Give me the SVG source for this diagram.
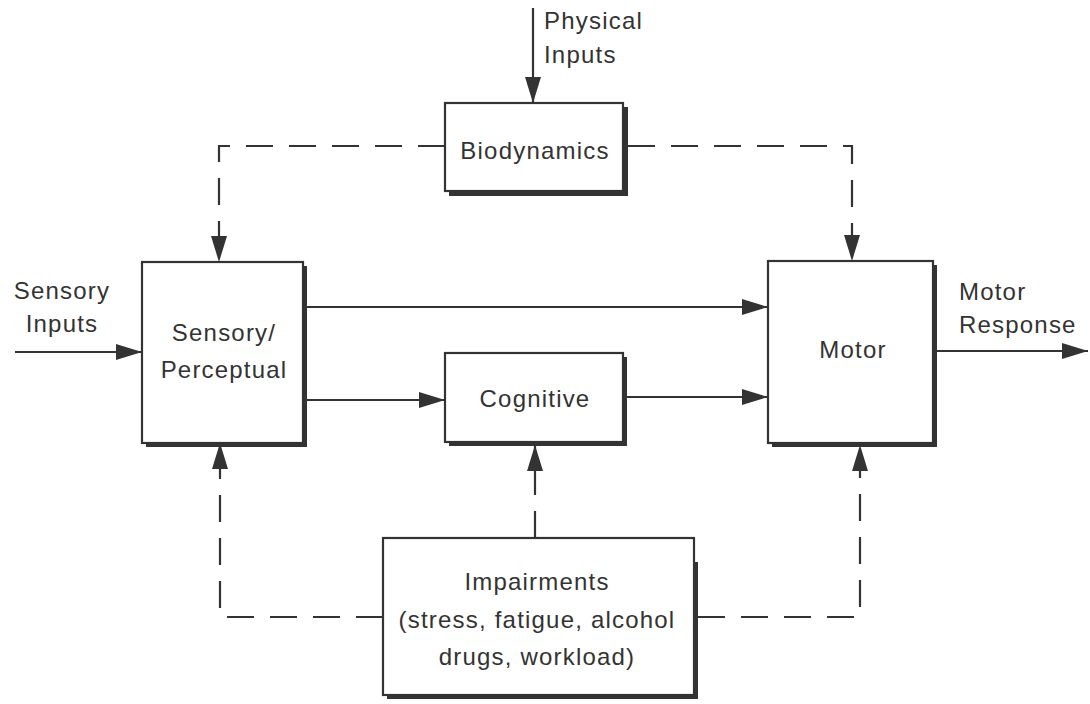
<svg xmlns="http://www.w3.org/2000/svg" width="1090" height="704" viewBox="0 0 1090 704">
<defs>
<marker id="ah" markerUnits="userSpaceOnUse" markerWidth="28" markerHeight="18" refX="26" refY="8" orient="auto">
<path d="M0,0 L26,8 L0,16 Z" fill="#333"/>
</marker>
<style>
.box{fill:#fff;stroke:#333;stroke-width:2.2}
.sh{fill:#333}
.t{font-family:"Liberation Sans",Arial,sans-serif;font-size:24px;letter-spacing:1.2px;fill:#333}
.m{text-anchor:middle}
.sl{fill:none;stroke:#333;stroke-width:2.2}
.da{fill:none;stroke:#333;stroke-width:2.2;stroke-dasharray:27,16}
</style>
</defs>
<rect width="1090" height="704" fill="#fff"/>
<g id="connectors">
<line class="sl" x1="533" y1="8" x2="533" y2="103" marker-end="url(#ah)"/>
<line class="sl" x1="15" y1="352" x2="142" y2="352" marker-end="url(#ah)"/>
<line class="sl" x1="307" y1="307" x2="768" y2="307" marker-end="url(#ah)"/>
<line class="sl" x1="307" y1="400" x2="445" y2="400" marker-end="url(#ah)"/>
<line class="sl" x1="627" y1="397" x2="768" y2="397" marker-end="url(#ah)"/>
<line class="sl" x1="937" y1="351" x2="1088" y2="351" marker-end="url(#ah)"/>
<path class="da" d="M445,146 H219 V262" marker-end="url(#ah)"/>
<path class="da" d="M628,146 H852 V261" marker-end="url(#ah)"/>
<path class="da" d="M383,617 H220 V443" marker-end="url(#ah)"/>
<path class="da" d="M698,617 H860 V445" marker-end="url(#ah)"/>
<path class="da" d="M535,538 V445" marker-end="url(#ah)"/>
</g>
<g id="biodynamics">
<rect class="sh" x="449" y="107" width="179" height="89"/>
<rect class="box" x="445" y="103" width="178" height="88"/>
<text class="t m" x="535" y="159">Biodynamics</text>
</g>
<g id="sensory">
<rect class="sh" x="146" y="266" width="161" height="181"/>
<rect class="box" x="142" y="262" width="161" height="181"/>
<text class="t m" x="224" y="341">Sensory/</text>
<text class="t m" x="224" y="378">Perceptual</text>
</g>
<g id="cognitive">
<rect class="sh" x="449" y="357" width="178" height="89"/>
<rect class="box" x="445" y="353" width="178" height="89"/>
<text class="t m" x="535" y="407">Cognitive</text>
</g>
<g id="motor">
<rect class="sh" x="772" y="265" width="165" height="182"/>
<rect class="box" x="768" y="261" width="165" height="182"/>
<text class="t m" x="853" y="358">Motor</text>
</g>
<g id="impairments">
<rect class="sh" x="387" y="562" width="311" height="137"/>
<rect class="box" x="383" y="538" width="311" height="157"/>
<text class="t m" x="537" y="590">Impairments</text>
<text class="t m" x="537" y="628">(stress, fatigue, alcohol</text>
<text class="t m" x="537" y="665">drugs, workload)</text>
</g>
<g id="labels">
<text class="t" x="544" y="29">Physical</text>
<text class="t" x="544" y="63">Inputs</text>
<text class="t m" x="62" y="299">Sensory</text>
<text class="t m" x="62" y="332">Inputs</text>
<text class="t" x="959" y="300">Motor</text>
<text class="t" x="959" y="333">Response</text>
</g>
</svg>
